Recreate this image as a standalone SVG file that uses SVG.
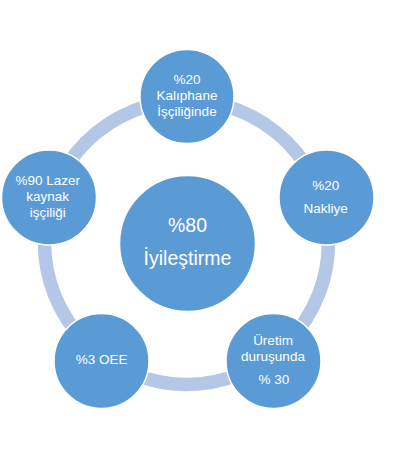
<svg xmlns="http://www.w3.org/2000/svg" width="415" height="459" viewBox="0 0 415 459">
<style>
.node{fill:#5B9BD5;stroke:#FFFFFF;stroke-width:1.5}
.t{fill:#FFFFFF;font-family:"Liberation Sans",Arial,sans-serif;font-size:13.5px;text-anchor:middle}
.tc{fill:#FFFFFF;font-family:"Liberation Sans",Arial,sans-serif;font-size:19.5px;text-anchor:middle}
</style>
<rect width="415" height="459" fill="#FFFFFF"/>
<g id="connectors">
<circle cx="186.5" cy="242.5" r="142" fill="none" stroke="#B4C7E7" stroke-width="13.5"/>
</g>
<g id="center">
<circle class="node" cx="187.5" cy="243.5" r="68"/>
<text class="tc" x="187.5" y="231.8">%80</text>
<text class="tc" x="187.5" y="264.5">İyileştirme</text>
</g>
<g id="n-top">
<circle class="node" cx="187" cy="96.5" r="47"/>
<text class="t" x="187" y="84">%20</text>
<text class="t" x="187" y="100">Kalıphane</text>
<text class="t" x="187" y="115.8">İşçiliğinde</text>
</g>
<g id="n-right">
<circle class="node" cx="326.5" cy="197.5" r="47.5"/>
<text class="t" x="325.7" y="189.8">%20</text>
<text class="t" x="325.7" y="213">Nakliye</text>
</g>
<g id="n-bottom-right">
<circle class="node" cx="273.5" cy="361" r="47.5"/>
<text class="t" x="273" y="344.7">Üretim</text>
<text class="t" x="273" y="360.7">duruşunda</text>
<text class="t" x="274" y="383.7">% 30</text>
</g>
<g id="n-bottom-left">
<circle class="node" cx="101.5" cy="361" r="47.5"/>
<text class="t" x="101.7" y="364">%3 OEE</text>
</g>
<g id="n-left">
<circle class="node" cx="49" cy="197.5" r="47.5"/>
<text class="t" x="47.7" y="185">%90 Lazer</text>
<text class="t" x="47.7" y="200.7">kaynak</text>
<text class="t" x="47.7" y="217">işçiliği</text>
</g>
</svg>
